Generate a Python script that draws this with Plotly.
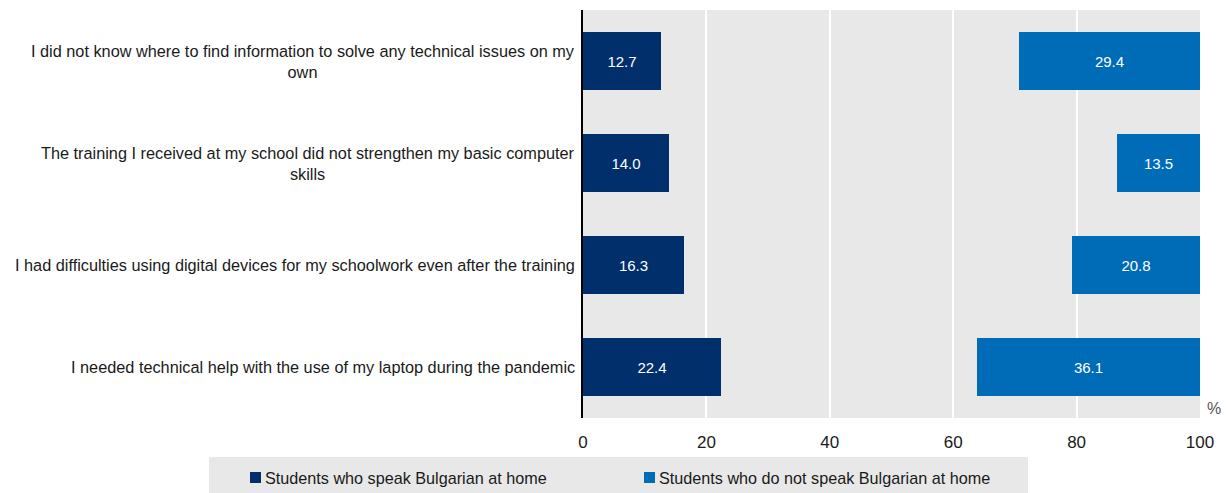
import plotly.graph_objects as go

categories = [
    "I needed technical help with the use of my laptop during the pandemic",
    "I had difficulties using digital devices for my schoolwork even after the training",
    "The training I received at my school did not strengthen my basic computer<br>skills",
    "I did not know where to find information to solve any technical issues on my<br>own",
]
speak_bg = [22.4, 16.3, 14.0, 12.7]
not_speak_bg = [36.1, 20.8, 13.5, 29.4]
series_names = ["Students who speak Bulgarian at home",
                "Students who do not speak Bulgarian at home"]
x_ticks = [0, 20, 40, 60, 80, 100]

DARK = "#002F6C"
BLUE = "#006BB6"
BG = "#E8E8E8"
FONT = "Liberation Sans, Arial, sans-serif"

fig = go.Figure()
fig.add_trace(go.Bar(
    y=categories, x=speak_bg, orientation="h", name=series_names[0],
    marker=dict(color=DARK, line=dict(width=0)),
    text=[f"{v:.1f}" for v in speak_bg], textposition="inside",
    insidetextanchor="middle", textfont=dict(color="white", size=15, family=FONT),
    width=0.57, showlegend=False,
))
fig.add_trace(go.Bar(
    y=categories, x=not_speak_bg, base=[100 - v for v in not_speak_bg],
    orientation="h", name=series_names[1],
    marker=dict(color=BLUE, line=dict(width=0)),
    text=[f"{v:.1f}" for v in not_speak_bg], textposition="inside",
    insidetextanchor="middle", textfont=dict(color="white", size=15, family=FONT),
    width=0.57, showlegend=False,
))

# plot area in pixels, used to place the legend panel in paper units
PL, PR, PT, PB = 583, 1200, 10, 418
PW, PH = PR - PL, PB - PT

# category labels, centred lines, right edge next to the axis
annotations = []
for c in categories:
    annotations.append(dict(
        x=0, xref="paper", y=c, yref="y", text=c, showarrow=False,
        xanchor="right", yanchor="middle", align="center", xshift=-6,
        font=dict(size=16.3, color="#1a1a1a", family=FONT),
    ))
annotations.append(dict(
    x=1, xref="paper", y=0, yref="paper", text="%", showarrow=False,
    xanchor="left", yanchor="middle", xshift=5, yshift=10,
    font=dict(size=16, color="#555555", family=FONT),
))

# legend drawn as a grey panel with two swatches
shapes = [dict(type="rect", xref="paper", yref="paper",
               x0=(209 - PL) / PW, x1=(1028 - PL) / PW,
               y0=(PB - 495) / PH, y1=(PB - 457) / PH,
               fillcolor=BG, line=dict(width=0), layer="below")]
legend_items = [(250, DARK, series_names[0]), (644, BLUE, series_names[1])]
for px, col, name in legend_items:
    shapes.append(dict(type="rect", xref="paper", yref="paper",
                       x0=(px - PL) / PW, x1=(px + 11 - PL) / PW,
                       y0=(PB - 483) / PH, y1=(PB - 472) / PH,
                       fillcolor=col, line=dict(width=0)))
    annotations.append(dict(
        x=(px + 13 - PL) / PW, xref="paper", y=(PB - 478) / PH, yref="paper",
        text=name, showarrow=False, xanchor="left", yanchor="middle",
        font=dict(size=16.2, color="#1a1a1a", family=FONT),
    ))

fig.update_layout(
    width=1226, height=493,
    margin=dict(l=PL, r=1226 - PR, t=PT, b=493 - PB),
    paper_bgcolor="white", plot_bgcolor=BG,
    barmode="overlay", bargap=0,
    font=dict(family=FONT, color="#1a1a1a"),
    xaxis=dict(range=[0, 100], tickvals=x_ticks, showgrid=True,
               gridcolor="white", gridwidth=2, zeroline=False,
               tickfont=dict(size=17), ticks="", showline=False,
               ticklabelstandoff=12),
    yaxis=dict(categoryorder="array", categoryarray=categories,
               showticklabels=False, showgrid=False, zeroline=False,
               showline=True, linecolor="black", linewidth=1.5),
    shapes=shapes, annotations=annotations,
)

fig.write_html("out.html")
